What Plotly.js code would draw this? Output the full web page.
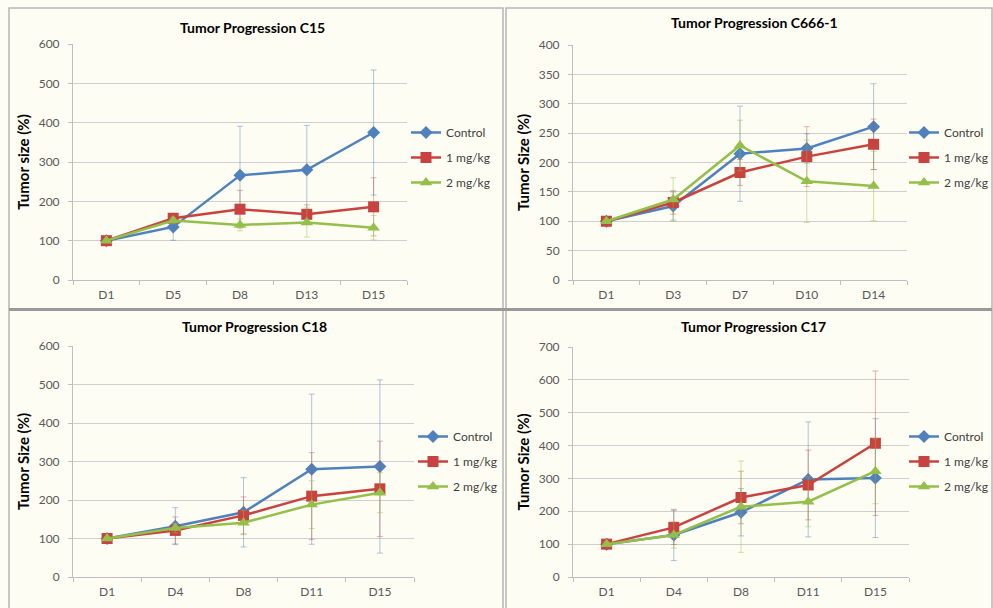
<!DOCTYPE html>
<html>
<head>
<meta charset="utf-8">
<script src="https://cdn.plot.ly/plotly-3.0.1.min.js"></script>
<style>html,body{margin:0;padding:0;background:#FDFDF3;}#chart{width:993px;height:608px;}</style>
</head>
<body>
<div id="chart"></div>
<script>
// ---------- DATA ----------
const seriesNames = ['Control', '1 mg/kg', '2 mg/kg'];

const titleC15 = 'Tumor Progression C15';
const catsC15 = ['D1', 'D5', 'D8', 'D13', 'D15'];
const controlC15 = [100, 135, 266, 280, 375];
const controlErrC15 = [0, 34, 125, 113, 159];
const dose1C15 = [100, 157, 180, 167, 186];
const dose1ErrC15 = [0, 10, 48, 24, 74];
const dose2C15 = [100, 151, 140, 146, 133];
const dose2ErrC15 = [0, 8, 15, 37, 31];
const yTicksC15 = [0, 100, 200, 300, 400, 500, 600];

const titleC666 = 'Tumor Progression C666-1';
const catsC666 = ['D1', 'D3', 'D7', 'D10', 'D14'];
const controlC666 = [100, 126, 215, 224, 261];
const controlErrC666 = [0, 24, 81, 25, 73];
const dose1C666 = [100, 132, 183, 210, 231];
const dose1ErrC666 = [0, 20, 22, 51, 43];
const dose2C666 = [100, 137, 229, 168, 160];
const dose2ErrC666 = [0, 37, 43, 70, 59];
const yTicksC666 = [0, 50, 100, 150, 200, 250, 300, 350, 400];

const titleC18 = 'Tumor Progression C18';
const catsC18 = ['D1', 'D4', 'D8', 'D11', 'D15'];
const controlC18 = [100, 132, 168, 280, 287];
const controlErrC18 = [0, 48, 90, 195, 225];
const dose1C18 = [100, 121, 160, 210, 229];
const dose1ErrC18 = [0, 35, 48, 113, 124];
const dose2C18 = [100, 127, 141, 188, 219];
const dose2ErrC18 = [0, 12, 31, 62, 52];
const yTicksC18 = [0, 100, 200, 300, 400, 500, 600];

const titleC17 = 'Tumor Progression C17';
const catsC17 = ['D1', 'D4', 'D8', 'D11', 'D15'];
const controlC17 = [100, 128, 197, 297, 301];
const controlErrC17 = [0, 78, 72, 175, 181];
const dose1C17 = [100, 151, 242, 280, 407];
const dose1ErrC17 = [0, 52, 80, 106, 220];
const dose2C17 = [100, 128, 214, 229, 322];
const dose2ErrC17 = [0, 40, 139, 76, 99];
const yTicksC17 = [0, 100, 200, 300, 400, 500, 600, 700];

// ---------- STYLE / LAYOUT ----------
const W = 993, H = 608;
const px = v => v / W;
const py = v => 1 - v / H;
const FONT = 'Lato, "Open Sans", "Liberation Sans", sans-serif';
const colors = ['#4F81BD', '#C8423F', '#93BF4A'];
const errColors = ['rgba(79,129,189,0.45)', 'rgba(200,66,63,0.40)', 'rgba(147,191,74,0.45)'];
const symbols = ['diamond', 'square', 'triangle-up'];
const msizes = [10, 11, 11];

const panels = [
  {title: titleC15, cats: catsC15, vals: [controlC15, dose1C15, dose2C15], errs: [controlErrC15, dose1ErrC15, dose2ErrC15],
   yt: yTicksC15, ytitle: 'Tumor size (%)', dx: [73, 407], dy: [44, 280], tt: [252, 28], leg: [406, 118]},
  {title: titleC666, cats: catsC666, vals: [controlC666, dose1C666, dose2C666], errs: [controlErrC666, dose1ErrC666, dose2ErrC666],
   yt: yTicksC666, ytitle: 'Tumor Size (%)', dx: [573, 907], dy: [45, 280], tt: [754, 23], leg: [904, 118]},
  {title: titleC18, cats: catsC18, vals: [controlC18, dose1C18, dose2C18], errs: [controlErrC18, dose1ErrC18, dose2ErrC18],
   yt: yTicksC18, ytitle: 'Tumor Size (%)', dx: [73, 414], dy: [346, 577], tt: [254, 326], leg: [413, 422]},
  {title: titleC17, cats: catsC17, vals: [controlC17, dose1C17, dose2C17], errs: [controlErrC17, dose1ErrC17, dose2ErrC17],
   yt: yTicksC17, ytitle: 'Tumor Size (%)', dx: [573, 909], dy: [347, 577], tt: [753, 326], leg: [904, 422]}
];

const traces = [];
const layout = {
  width: W, height: H,
  margin: {l: 0, r: 0, t: 0, b: 0, autoexpand: false},
  paper_bgcolor: '#FDFDF3',
  plot_bgcolor: '#FDFDF3',
  font: {family: FONT, size: 12, color: '#595959'},
  showlegend: true,
  annotations: [],
  shapes: []
};

panels.forEach((p, i) => {
  const n = i + 1;
  const xa = n === 1 ? 'x' : 'x' + n;
  const ya = n === 1 ? 'y' : 'y' + n;
  const legName = n === 1 ? 'legend' : 'legend' + n;
  for (let s = 0; s < 3; s++) {
    traces.push({
      type: 'scatter', mode: 'lines+markers',
      x: p.cats, y: p.vals[s], name: seriesNames[s],
      xaxis: xa, yaxis: ya, legend: legName,
      legendgroup: 'g' + n + '_' + s,
      line: {color: colors[s], width: 2.5},
      marker: {symbol: symbols[s], size: msizes[s], color: colors[s]},
      error_y: {type: 'data', array: p.errs[s], symmetric: true, color: errColors[s], thickness: 1, width: 3},
      cliponaxis: false
    });
  }
  layout['xaxis' + (n === 1 ? '' : n)] = {
    domain: [px(p.dx[0]), px(p.dx[1])], anchor: ya,
    type: 'category', range: [-0.5, 4.5],
    showgrid: false, zeroline: false,
    showline: true, linecolor: '#BFBFBF', linewidth: 1,
    ticks: 'outside', tickson: 'boundaries', ticklen: 4, tickcolor: '#BFBFBF',
    ticklabelstandoff: 4,
    tickfont: {family: FONT, size: 12, color: '#595959'},
    automargin: false,
    fixedrange: true
  };
  layout['yaxis' + (n === 1 ? '' : n)] = {
    domain: [py(p.dy[1]), py(p.dy[0])], anchor: xa,
    range: [0, p.yt[p.yt.length - 1]], tickvals: p.yt,
    showgrid: true, gridcolor: '#CFCFCF', gridwidth: 1,
    zeroline: false, showline: true, linecolor: '#BFBFBF', linewidth: 1,
    ticks: 'outside', ticklen: 4, tickcolor: '#BFBFBF',
    ticklabelstandoff: 6,
    tickfont: {family: FONT, size: 12, color: '#595959'},
    title: {text: p.ytitle, font: {family: FONT, size: 15, color: '#000000', weight: 'bold'}, standoff: 5},
    automargin: false,
    fixedrange: true
  };
  layout[legName] = {
    x: px(p.leg[0]), y: py(p.leg[1]), xanchor: 'left', yanchor: 'top',
    bgcolor: 'rgba(0,0,0,0)', borderwidth: 0,
    font: {family: FONT, size: 12, color: '#404040'},
    tracegroupgap: 6, traceorder: 'grouped', itemwidth: 30
  };
  layout.annotations.push({
    text: '<b>' + p.title + '</b>', xref: 'paper', yref: 'paper',
    x: px(p.tt[0]), y: py(p.tt[1]), xanchor: 'center', yanchor: 'middle',
    showarrow: false, font: {family: FONT, size: 14, color: '#000000'}
  });
});

// panel frames
const frames = [[9, 8, 503, 309], [506, 8, 992, 309], [9, 310, 503, 620], [506, 310, 992, 620]];
frames.forEach(f => {
  layout.shapes.push({type: 'rect', xref: 'paper', yref: 'paper', layer: 'below',
    x0: px(f[0]), x1: px(f[2]), y0: py(f[3]), y1: py(f[1]),
    line: {color: '#B5B5B5', width: 1.5}, fillcolor: 'rgba(0,0,0,0)'});
});
layout.shapes.push({type: 'line', xref: 'paper', yref: 'paper', layer: 'below',
  x0: px(9), x1: px(992), y0: py(309.5), y1: py(309.5), line: {color: '#9A9A9A', width: 3}});

Plotly.newPlot('chart', traces, layout, {displayModeBar: false, staticPlot: true});
</script>
</body>
</html>
